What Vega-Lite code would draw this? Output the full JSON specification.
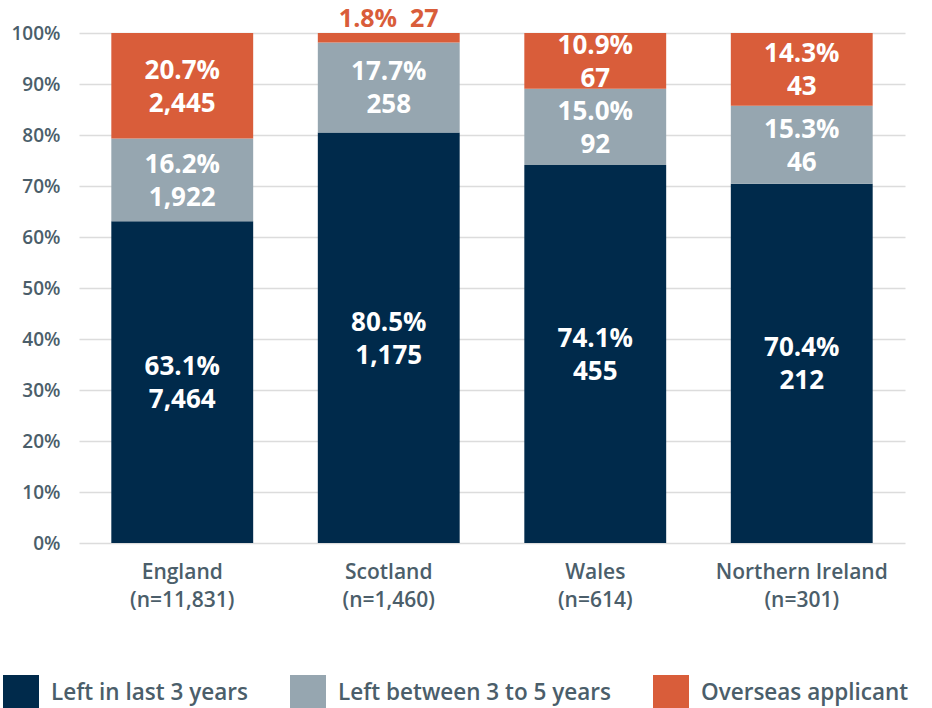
{
  "$schema": "https://vega.github.io/schema/vega-lite/v6.json",
  "autosize": {"type": "none"},
  "width": 826,
  "height": 510,
  "padding": {"left": 79, "top": 33, "right": 27, "bottom": 165},
  "background": "white",
  "config": {
    "font": "Open Sans",
    "view": {"stroke": null}
  },
  "data": {
    "values": [
      {"region": "England (n=11,831)", "category": "Left in last 3 years", "ord": 1, "n": 7464, "pct": "63.1%"},
      {"region": "England (n=11,831)", "category": "Left between 3 to 5 years", "ord": 2, "n": 1922, "pct": "16.2%"},
      {"region": "England (n=11,831)", "category": "Overseas applicant", "ord": 3, "n": 2445, "pct": "20.7%"},
      {"region": "Scotland (n=1,460)", "category": "Left in last 3 years", "ord": 1, "n": 1175, "pct": "80.5%"},
      {"region": "Scotland (n=1,460)", "category": "Left between 3 to 5 years", "ord": 2, "n": 258, "pct": "17.7%"},
      {"region": "Scotland (n=1,460)", "category": "Overseas applicant", "ord": 3, "n": 27, "pct": "1.8%"},
      {"region": "Wales (n=614)", "category": "Left in last 3 years", "ord": 1, "n": 455, "pct": "74.1%"},
      {"region": "Wales (n=614)", "category": "Left between 3 to 5 years", "ord": 2, "n": 92, "pct": "15.0%"},
      {"region": "Wales (n=614)", "category": "Overseas applicant", "ord": 3, "n": 67, "pct": "10.9%"},
      {"region": "Northern Ireland (n=301)", "category": "Left in last 3 years", "ord": 1, "n": 212, "pct": "70.4%"},
      {"region": "Northern Ireland (n=301)", "category": "Left between 3 to 5 years", "ord": 2, "n": 46, "pct": "15.3%"},
      {"region": "Northern Ireland (n=301)", "category": "Overseas applicant", "ord": 3, "n": 43, "pct": "14.3%"}
    ]
  },
  "transform": [
    {"stack": "n", "groupby": ["region"], "sort": [{"field": "ord"}], "offset": "normalize", "as": ["y0", "y1"]},
    {"calculate": "(datum.y0 + datum.y1) / 2", "as": "ymid"},
    {"calculate": "datum.pct + '\\n' + format(datum.n, ',')", "as": "label"},
    {"calculate": "datum.pct + '\u00a0\u00a0' + format(datum.n, ',')", "as": "label1"}
  ],
  "encoding": {
    "x": {
      "field": "region",
      "type": "nominal",
      "sort": null,
      "scale": {"paddingInner": 0.313, "paddingOuter": 0.1565},
      "axis": {
        "title": null,
        "labelAngle": 0,
        "domain": false,
        "ticks": false,
        "labelPadding": 18,
        "labelFont": "Open Sans",
        "labelFontSize": 21,
        "labelFontWeight": 600,
        "labelColor": "#4b5e6a",
        "labelLineHeight": 28,
        "labelExpr": "[slice(datum.label, 0, indexof(datum.label, ' (')), slice(datum.label, indexof(datum.label, ' (') + 1)]"
      }
    }
  },
  "layer": [
    {
      "mark": {"type": "bar"},
      "encoding": {
        "y": {
          "field": "y0",
          "type": "quantitative",
          "scale": {"domain": [0, 1]},
          "axis": {
            "title": null,
            "format": ".0%",
            "values": [0, 0.1, 0.2, 0.3, 0.4, 0.5, 0.6, 0.7, 0.8, 0.9, 1],
            "domain": false,
            "ticks": false,
            "grid": true,
            "gridColor": "#dcdcdc",
            "gridWidth": 1.5,
            "labelPadding": 19,
            "labelFont": "Open Sans",
            "labelFontSize": 19,
            "labelFontWeight": 600,
            "labelColor": "#4b5e6a"
          }
        },
        "y2": {"field": "y1"},
        "color": {
          "field": "category",
          "type": "nominal",
          "scale": {
            "domain": ["Left in last 3 years", "Left between 3 to 5 years", "Overseas applicant"],
            "range": ["#002a4b", "#96a6b0", "#d95d3a"]
          },
          "legend": {
            "title": null,
            "orient": "none",
            "direction": "horizontal",
            "legendX": -76,
            "legendY": 642,
            "symbolType": "square",
            "symbolSize": 1296,
            "symbolStrokeWidth": 0,
            "symbolOpacity": 1,
            "labelFont": "Open Sans",
            "labelFontSize": 22.5,
            "labelFontWeight": 600,
            "labelColor": "#4b5e6a",
            "labelOffset": 12,
            "columnPadding": 42,
            "labelLimit": 400
          }
        }
      }
    },
    {
      "transform": [{"filter": "datum.y1 - datum.y0 >= 0.05"}],
      "mark": {"type": "text", "font": "Open Sans", "color": "white", "fontSize": 26, "fontWeight": "bold", "lineHeight": 33, "lineBreak": "\n", "baseline": "middle", "align": "center", "dy": -15},
      "encoding": {
        "y": {"field": "ymid", "type": "quantitative"},
        "text": {"field": "label"}
      }
    },
    {
      "transform": [{"filter": "datum.y1 - datum.y0 < 0.05"}],
      "mark": {"type": "text", "font": "Open Sans", "color": "#d95d3a", "fontSize": 25, "fontWeight": "bold", "baseline": "middle", "align": "center", "dy": -14},
      "encoding": {
        "y": {"field": "y1", "type": "quantitative"},
        "text": {"field": "label1"}
      }
    }
  ]
}
